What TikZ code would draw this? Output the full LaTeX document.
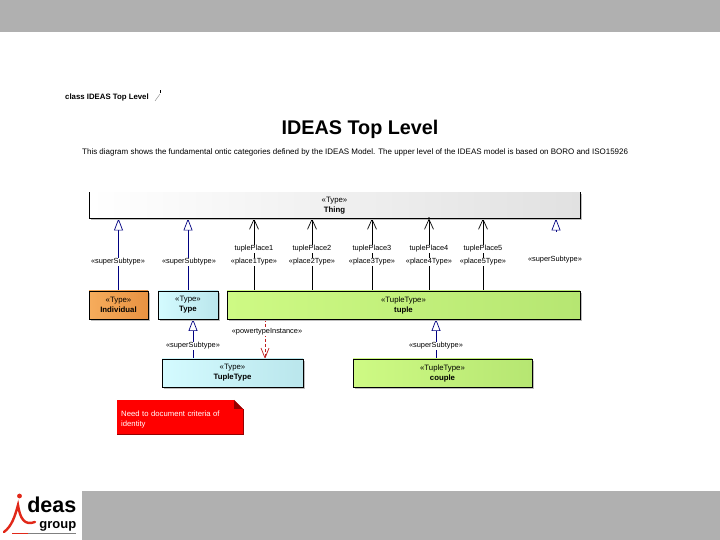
\documentclass[tikz,border=0pt]{standalone}
\usepackage{fontspec}
\setmainfont{Liberation Sans}
\usepackage{xcolor}
\usetikzlibrary{arrows.meta,backgrounds,shadows}
\definecolor{barfill}{RGB}{176,176,176}
\definecolor{genline}{RGB}{0,0,128}
\definecolor{powerline}{RGB}{190,30,30}
\definecolor{shadowfill}{RGB}{190,190,190}
\definecolor{notefold}{RGB}{150,0,0}
\definecolor{thingright}{RGB}{225,225,225}
\definecolor{indivleft}{RGB}{246,172,92}
\definecolor{indivright}{RGB}{232,146,66}
\definecolor{typeleft}{RGB}{212,251,255}
\definecolor{typeright}{RGB}{186,230,236}
\definecolor{tupleleft}{RGB}{206,250,132}
\definecolor{tupleright}{RGB}{182,230,114}
\definecolor{logored}{RGB}{225,40,25}
\tikzset{
  block/.style={
    draw,
    line width=0.65pt,
    align=center,
    inner sep=0pt,
    outer sep=0pt,
    minimum height=28pt,
    font=\fontsize{7.8}{10}\selectfont,
    drop shadow={shadow xshift=2pt, shadow yshift=-2pt, fill=shadowfill, opacity=1}
  },
  thingbox/.style={block, draw=none, left color=white, right color=thingright},
  indivbox/.style={block, left color=indivleft, right color=indivright},
  typebox/.style={block, left color=typeleft, right color=typeright},
  tuplebox/.style={block, left color=tupleleft, right color=tupleright}
}

\begin{document}
\begin{tikzpicture}[
      x=1pt,
      y=1pt,
      gen/.style={-{Triangle[open, fill=white, length=12pt, width=9pt]}, line width=0.7pt, draw=genline},
      role/.style={-{Straight Barb[length=10pt, width=9pt]}, line width=0.7pt},
      power/.style={-{Straight Barb[length=10pt, width=8pt]}, line width=0.7pt, densely dashed, draw=powerline},
      tag/.style={font=\fontsize{7.4}{8}\selectfont, fill=white, inner sep=0.6pt},
      tap/.style={circle, fill=black, inner sep=1pt},
      bar/.style={fill=barfill, inner sep=0pt, outer sep=0pt}
    ]
    \useasboundingbox (0,0) rectangle (720,540);

    \node[bar, minimum width=720pt, minimum height=32pt] (topbar) at (360,524) {};
    \node[bar, minimum width=638pt, minimum height=49pt] (botbar) at (401,24.5) {};

    \node[font=\fontsize{7.8}{9}\selectfont\bfseries, anchor=west, inner sep=0pt] (frame) at (65,443)
      {class IDEAS Top Level};
    \node[font=\fontsize{19.8}{22}\selectfont\bfseries, inner sep=0pt] (title) at (360,411)
      {IDEAS Top Level};
    \node[font=\fontsize{7.98}{9}\selectfont, anchor=west, inner sep=0pt] (intro) at (82,387.5)
      {This diagram shows the fundamental ontic categories defined by the IDEAS Model. The upper level of the IDEAS model is based on BORO and ISO15926};

    \node[thingbox, minimum width=491pt, minimum height=26pt] (thing) at (334.5,334.5) {«Type»\\\textbf{Thing}};
    \node[indivbox, minimum width=59pt] (indiv) at (118.5,235) {«Type»\\\textbf{Individual}};
    \node[typebox, minimum width=60pt] (type) at (188,235) {«Type»\\\textbf{Type}};
    \node[tuplebox, minimum width=353pt] (tuple) at (403.5,235) {«TupleType»\\\textbf{tuple}};
    \node[typebox, minimum width=141pt] (tupletype) at (232.5,167) {«Type»\\\textbf{TupleType}};
    \node[tuplebox, minimum width=179pt] (couple) at (442.5,167) {«TupleType»\\\textbf{couple}};

    \node[fill=red, inner sep=0pt, outer sep=0pt, minimum width=126pt, minimum height=34pt] (note) at (180,123) {};
    \node[text=white, text width=118pt, align=left, inner sep=0pt, font=\fontsize{7.7}{10}\selectfont, anchor=west] (notetext) at (121,120)
      {Need to document criteria of identity};

    \node[tag] (sub1) at (118,278) {«superSubtype»};
    \node[tag] (sub2) at (189,278) {«superSubtype»};
    \node[tag] (sub3) at (555,280) {«superSubtype»};
    \node[tag] (sub4) at (193,194) {«superSubtype»};
    \node[tag] (sub5) at (436,194) {«superSubtype»};
    \node[tag] (inst) at (267,208) {«powertypeInstance»};

    \node[tag] (place1) at (254,278) {«place1Type»};
    \node[tag] (place2) at (312,278) {«place2Type»};
    \node[tag] (place3) at (372,278) {«place3Type»};
    \node[tag] (place4) at (429,278) {«place4Type»};
    \node[tag] (place5) at (483,278) {«place5Type»};
    \node[tag] (role1) at (254,291) {tuplePlace1};
    \node[tag] (role2) at (312,291) {tuplePlace2};
    \node[tag] (role3) at (372,291) {tuplePlace3};
    \node[tag] (role4) at (429,291) {tuplePlace4};
    \node[tag] (role5) at (483,291) {tuplePlace5};
    \coordinate (stub) at (556,308);
    \coordinate (instline) at (265,208);

    \begin{scope}[on background layer]
    \draw[gen] (indiv.north) -- (indiv.north |- thing.south);
    \draw[gen] (type.north) -- (type.north |- thing.south);
    \draw[gen] (stub) -- (stub |- thing.south);
    \draw[role] (place1 |- tuple.north) -- (place1 |- thing.south);
    \draw[role] (place2 |- tuple.north) -- (place2 |- thing.south);
    \draw[role] (place3 |- tuple.north) -- (place3 |- thing.south);
    \draw[role] (place4 |- tuple.north) -- (place4 |- thing.south);
    \draw[role] (place5 |- tuple.north) -- (place5 |- thing.south);
    \draw[gen] (sub4 |- tupletype.north) -- (sub4 |- type.south);
    \draw[gen] (sub5 |- couple.north) -- (sub5 |- tuple.south);
    \draw[power] (instline |- tuple.south) -- (instline |- tupletype.north);
    \end{scope}

    \draw[line width=0.65pt] (thing.north west) -- (thing.south west) -- (thing.south east) -- (thing.north east);
    \node[tap] (dot4) at (place4 |- thing.south) {};
    \fill[white] (note.north east) -- ++(-9,0) -- ++(9,-9) -- cycle;
    \fill[notefold] (note.north east) ++(-9,0) -- ++(9,-9) -- ++(-9,0) -- cycle;
    \draw[notefold, line width=0.6pt] (note.south west) -- (note.south east) -- ++(0,25);

    \draw[gray, line width=0.4pt] (155,439) -- (160,446);
    \draw[line width=0.4pt] (160.6,447) -- (160.6,450);

    % logo
    \node[font=\fontsize{21.5}{23}\selectfont\bfseries, inner sep=0pt, anchor=base east] (deas) at (76.5,27) {deas};
    \node[font=\fontsize{13}{14}\selectfont\bfseries, inner sep=0pt, anchor=base east] (group) at (76.5,11.5) {group};
    \fill[logored] (19.5,44) circle (2.4);
    \draw[logored, line width=2.4pt, line cap=round] (4,8) .. controls (12,14) and (15,24) .. (18,35) .. controls (20,22) and (24,14) .. (35,18);
    \draw[logored, line width=1pt, dash pattern=on 1.5pt off 0.5pt] (12,6) -- (28,6);
    \draw[black!50, line width=1pt, dash pattern=on 1.5pt off 0.5pt] (28,6) -- (76,6);
  \end{tikzpicture}
\end{document}
